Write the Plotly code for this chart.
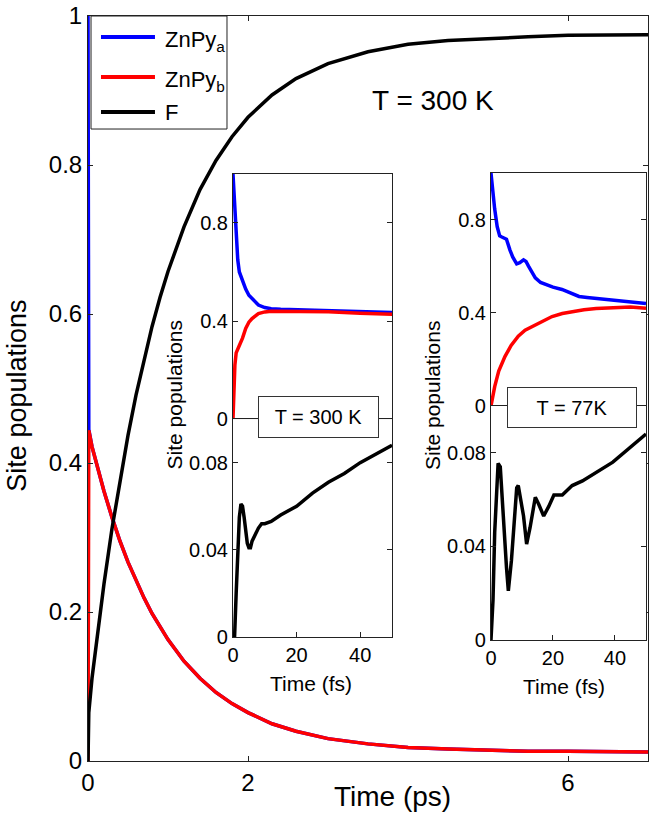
import plotly.graph_objects as go

# main panel: time in ps
t_ps = [0, 0.01, 0.05, 0.1, 0.2, 0.3, 0.4, 0.5, 0.6, 0.7, 0.8, 0.9, 1.0, 1.2, 1.4, 1.6,
        1.8, 2.0, 2.3, 2.6, 3.0, 3.5, 4.0, 4.5, 5.0, 5.5, 6.0, 6.5, 7.0]
znpy_a = [1.0, 0.445, 0.422, 0.401, 0.362, 0.327, 0.295, 0.267, 0.242, 0.219, 0.198, 0.180,
          0.163, 0.134, 0.111, 0.092, 0.077, 0.065, 0.050, 0.040, 0.030, 0.023, 0.018, 0.016,
          0.014, 0.013, 0.013, 0.012, 0.012]
znpy_b = [0.0, 0.444, 0.422, 0.401, 0.362, 0.327, 0.295, 0.267, 0.242, 0.219, 0.198, 0.180,
          0.163, 0.134, 0.111, 0.092, 0.077, 0.065, 0.050, 0.040, 0.030, 0.023, 0.018, 0.016,
          0.014, 0.013, 0.013, 0.012, 0.012]
f_main = [0.0, 0.065, 0.111, 0.156, 0.238, 0.312, 0.378, 0.437, 0.491, 0.539, 0.583, 0.622,
          0.657, 0.717, 0.767, 0.806, 0.838, 0.864, 0.894, 0.916, 0.936, 0.952, 0.962, 0.967,
          0.970, 0.972, 0.974, 0.975, 0.975]

# inset T = 300 K, time in fs
t1_a = [0, 0.5, 1, 1.5, 2, 3, 4, 5, 6, 8, 10, 12, 15, 20, 30, 40, 50]
a_300 = [1.0, 0.88, 0.74, 0.65, 0.60, 0.56, 0.53, 0.505, 0.49, 0.465, 0.455, 0.45, 0.448,
         0.446, 0.445, 0.44, 0.435]
t1_b = [0, 0.3, 0.6, 1, 1.5, 2, 3, 4, 5, 6, 8, 10, 12, 15, 20, 30, 40, 50]
b_300 = [0.0, 0.12, 0.22, 0.27, 0.29, 0.30, 0.33, 0.37, 0.395, 0.41, 0.43, 0.437, 0.44,
         0.44, 0.44, 0.438, 0.432, 0.428]
t1_f = [0, 0.5, 1, 1.5, 2, 2.5, 3, 3.5, 4, 4.5, 5, 5.5, 6, 7, 8, 9, 10, 12, 15, 20, 25, 30,
        35, 40, 45, 50]
f_300 = [0.0, 0.0, 0.02, 0.04, 0.055, 0.061, 0.06, 0.055, 0.048, 0.043, 0.041, 0.041, 0.044,
         0.047, 0.05, 0.052, 0.052, 0.053, 0.056, 0.06, 0.066, 0.071, 0.075, 0.08, 0.084, 0.088]

# inset T = 77 K, time in fs
t2_a = [0, 0.5, 1.2, 2, 2.8, 3.5, 5, 6.1, 7, 8.3, 9.3, 10.5, 11.3, 12.1, 13, 14.3, 16,
        18.6, 20, 22.9, 25, 28.4, 31, 33.9, 37, 40.4, 45, 50]
a_77 = [1.0, 0.93, 0.845, 0.77, 0.73, 0.725, 0.716, 0.67, 0.64, 0.61, 0.615, 0.627, 0.62,
        0.6, 0.58, 0.55, 0.53, 0.515, 0.51, 0.5, 0.49, 0.47, 0.466, 0.462, 0.458, 0.455,
        0.448, 0.44]
t2_b = [0, 1.2, 2.5, 4.5, 6.5, 8.8, 11, 14.3, 17, 19.7, 23, 26.2, 30, 33.9, 37, 41.5, 45, 50]
b_77 = [0.0, 0.083, 0.15, 0.212, 0.26, 0.30, 0.325, 0.348, 0.368, 0.384, 0.397, 0.406,
        0.413, 0.418, 0.421, 0.425, 0.425, 0.42]
t2_f = [0, 0.65, 1.2, 1.7, 2.3, 3.0, 3.9, 5.0, 5.6, 6.6, 8.3, 8.8, 10.5, 11.5, 12.6, 14.3,
        15.4, 17.0, 18.6, 20.3, 23.0, 26.2, 29.5, 39.3, 50]
f_77 = [0.0, 0.017, 0.046, 0.06, 0.0755, 0.074, 0.053, 0.031, 0.021, 0.034, 0.065, 0.066,
        0.053, 0.041, 0.048, 0.061, 0.058, 0.053, 0.057, 0.062, 0.062, 0.066, 0.068, 0.076,
        0.088]

legend_names = ["ZnPy<sub>a</sub>", "ZnPy<sub>b</sub>", "F"]

BLUE = "#0000ff"
RED = "#ff0000"
BLACK = "#000000"
FONT = "Liberation Sans, Arial, Helvetica, sans-serif"
LW = 3.5

fig = go.Figure()
for y, name, col in zip([znpy_a, znpy_b, f_main], legend_names, [BLUE, RED, BLACK]):
    fig.add_trace(go.Scatter(x=t_ps, y=y, name=name, mode="lines",
                             line=dict(color=col, width=LW)))

# insets
fig.add_trace(go.Scatter(x=t1_a, y=a_300, mode="lines", line=dict(color=BLUE, width=LW),
                         xaxis="x2", yaxis="y2"))
fig.add_trace(go.Scatter(x=t1_b, y=b_300, mode="lines", line=dict(color=RED, width=LW),
                         xaxis="x2", yaxis="y2"))
fig.add_trace(go.Scatter(x=t1_f, y=f_300, mode="lines", line=dict(color=BLACK, width=LW),
                         xaxis="x3", yaxis="y3"))
fig.add_trace(go.Scatter(x=t2_a, y=a_77, mode="lines", line=dict(color=BLUE, width=LW),
                         xaxis="x4", yaxis="y4"))
fig.add_trace(go.Scatter(x=t2_b, y=b_77, mode="lines", line=dict(color=RED, width=LW),
                         xaxis="x4", yaxis="y4"))
fig.add_trace(go.Scatter(x=t2_f, y=f_77, mode="lines", line=dict(color=BLACK, width=LW),
                         xaxis="x5", yaxis="y5"))

AX = dict(showline=True, linecolor="#222", linewidth=1, showgrid=False, zeroline=False,
          ticks="inside", ticklen=5, tickcolor="#222", mirror="ticks", automargin=False)
main_tick = dict(size=24, color=BLACK, family=FONT)
inset_tick = dict(size=20, color=BLACK, family=FONT)

x_in1 = [0.2589, 0.5429]
x_in2 = [0.7196, 0.9964]

fig.update_layout(
    width=654, height=816,
    margin=dict(l=88, r=6, t=16, b=55),
    paper_bgcolor="white", plot_bgcolor="white",
    font=dict(family=FONT, color=BLACK),
    showlegend=False,
    xaxis=dict(**AX, domain=[0, 1], range=[0, 7], tickvals=[0, 2, 6], tickfont=main_tick),
    yaxis=dict(**AX, domain=[0, 1], range=[0, 1], tickvals=[0, 0.2, 0.4, 0.6, 0.8, 1],
               tickfont=main_tick),
    xaxis2=dict(**{**AX, "ticks": "", "mirror": True}, domain=x_in1, range=[0, 50],
                anchor="y2", showticklabels=False),
    yaxis2=dict(**AX, domain=[0.459, 0.788], range=[0, 1], anchor="x2",
                tickvals=[0, 0.4, 0.8], tickfont=inset_tick),
    xaxis3=dict(**AX, domain=x_in1, range=[0, 50], anchor="y3", tickvals=[0, 20, 40],
                tickfont=inset_tick),
    yaxis3=dict(**AX, domain=[0.1664, 0.459], range=[0, 0.1], anchor="x3",
                tickvals=[0, 0.04, 0.08], tickfont=inset_tick),
    xaxis4=dict(**{**AX, "ticks": "", "mirror": True}, domain=x_in2, range=[0, 50],
                anchor="y4", showticklabels=False),
    yaxis4=dict(**AX, domain=[0.4765, 0.7893], range=[0, 1], anchor="x4",
                tickvals=[0, 0.4, 0.8], tickfont=inset_tick),
    xaxis5=dict(**AX, domain=x_in2, range=[0, 50], anchor="y5", tickvals=[0, 20, 40],
                tickfont=inset_tick),
    yaxis5=dict(**AX, domain=[0.1624, 0.4765], range=[0, 0.1], anchor="x5",
                tickvals=[0, 0.04, 0.08], tickfont=inset_tick),
)

def note(text, x, y, size, angle=0, xanchor="center", **kw):
    fig.add_annotation(text=text, x=x, y=y, xref="paper", yref="paper", showarrow=False,
                       textangle=angle, font=dict(size=size, family=FONT, color=BLACK),
                       xanchor=xanchor, yanchor="middle", **kw)

# legend box drawn by hand so the sample lines match the original length
fig.add_shape(type="rect", xref="paper", yref="paper", x0=0.0054, x1=0.2482,
              y0=0.8483, y1=1.0, line=dict(color="#222", width=1), fillcolor="white",
              layer="above")
for name, col, yl in zip(legend_names, [BLUE, RED, BLACK], [0.9718, 0.9181, 0.8711]):
    fig.add_shape(type="line", xref="paper", yref="paper", x0=0.0232, x1=0.1196,
                  y0=yl, y1=yl, line=dict(color=col, width=4), layer="above")
    note(name, 0.1339, yl - (0.006 if "sub" in name else 0), 22, xanchor="left")

note("T = 300 K", 0.616, 0.887, 28)
note("Time (ps)", 0.543, -0.048, 28)
note("Site populations", -0.126, 0.491, 27, angle=-90)
note("Site populations", 0.154, 0.491, 21, angle=-90)
note("Site populations", 0.614, 0.491, 21, angle=-90)
note("Time (fs)", 0.398, 0.104, 21)
note("Time (fs)", 0.850, 0.100, 21)
note("T = 300 K", 0.411, 0.4624, 20, bgcolor="white", bordercolor="#333", borderwidth=1,
     borderpad=2, width=115, height=36)
note("T = 77K", 0.864, 0.4745, 20, bgcolor="white", bordercolor="#333", borderwidth=1,
     borderpad=2, width=124, height=35)

fig.write_html("out.html", config={"displayModeBar": False},
               post_script="document.body.style.margin='0';")
